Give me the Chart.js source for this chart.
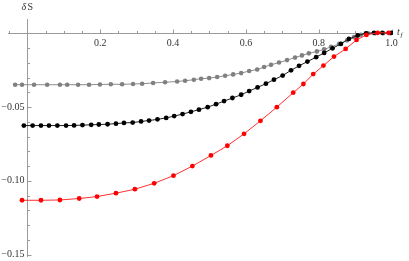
<!DOCTYPE html>
<html>
<head>
<meta charset="utf-8">
<script src="https://cdn.jsdelivr.net/npm/chart.js@4/dist/chart.umd.min.js"></script>
<style>
  body { margin: 0; background: #fff; }
  canvas { display: block; }
</style>
</head>
<body>
<canvas id="myChart" width="409" height="261"></canvas>
<script>
// values
const grayT = [-0.034, -0.015, 0.018, 0.054, 0.089, 0.109, 0.139, 0.169, 0.199, 0.229, 0.260, 0.290,
  0.315, 0.345, 0.378, 0.411, 0.433, 0.457, 0.477, 0.499, 0.521, 0.543, 0.565, 0.587, 0.609, 0.631,
  0.650, 0.669, 0.691, 0.713, 0.735, 0.754, 0.773, 0.795, 0.815, 0.834, 0.856, 0.878, 0.897, 0.916,
  0.935, 0.955, 0.977, 0.996];
const grayS = [-0.0348, -0.0348, -0.0348, -0.0348, -0.0348, -0.0348, -0.0348, -0.0348, -0.0346, -0.0345, -0.0345, -0.0343,
  -0.0341, -0.0336, -0.0331, -0.0326, -0.0321, -0.0314, -0.0307, -0.0303, -0.0296, -0.0287, -0.0278, -0.0269, -0.0255, -0.0245,
  -0.0228, -0.0213, -0.0197, -0.0181, -0.0164, -0.0149, -0.0135, -0.0122, -0.0108, -0.0091, -0.0071, -0.0047, -0.0025, -0.0009,
  0.0001, 0.0001, 0.0001, 0.0001];

const blackT = [-0.010, 0.014, 0.037, 0.059, 0.082, 0.106, 0.128, 0.151, 0.175, 0.196, 0.220, 0.243,
  0.265, 0.289, 0.312, 0.334, 0.357, 0.381, 0.403, 0.426, 0.449, 0.471, 0.495, 0.518, 0.540, 0.563,
  0.587, 0.609, 0.632, 0.655, 0.677, 0.701, 0.724, 0.746, 0.769, 0.793, 0.815, 0.838, 0.861, 0.883,
  0.907, 0.930, 0.952, 0.975, 0.999];
const blackS = [-0.0625, -0.0625, -0.0625, -0.0625, -0.0625, -0.0625, -0.0624, -0.0622, -0.0620, -0.0618, -0.0616, -0.0612,
  -0.0607, -0.0605, -0.0597, -0.0591, -0.0583, -0.0573, -0.0561, -0.0547, -0.0532, -0.0517, -0.0500, -0.0480, -0.0459, -0.0438,
  -0.0416, -0.0391, -0.0366, -0.0341, -0.0314, -0.0286, -0.0250, -0.0220, -0.0191, -0.0161, -0.0132, -0.0101, -0.0071, -0.0037,
  -0.0014, 0.0001, 0.0004, 0.0004, 0.0004];

const redT = [-0.015, 0.037, 0.089, 0.142, 0.191, 0.243, 0.295, 0.348, 0.401, 0.453, 0.504, 0.549,
  0.595, 0.640, 0.685, 0.730, 0.758, 0.785, 0.813, 0.842, 0.874, 0.904, 0.931, 0.962, 0.992];
const redS = [-0.1132, -0.1132, -0.1130, -0.1120, -0.1107, -0.1084, -0.1057, -0.1017, -0.0965, -0.0900, -0.0828, -0.0762,
  -0.0681, -0.0593, -0.0500, -0.0402, -0.0343, -0.0276, -0.0218, -0.0157, -0.0105, -0.0044, -0.0010, 0.0004, 0.0004];

const xLabels = [0.2, 0.4, 0.6, 0.8, 1.0];
const yLabels = [-0.05, -0.10, -0.15];

const serif = "'Liberation Serif', 'DejaVu Serif', 'Times New Roman', serif";

const toPoints = (ts, ss) => ts.map((t, i) => ({ x: t, y: ss[i] }));

const series = (pts, color, lineColor, r) => ({
    data: pts,
    showLine: true,
    borderColor: lineColor,
    borderWidth: 1,
    backgroundColor: color,
    pointBackgroundColor: color,
    pointBorderWidth: 0,
    pointRadius: r,
    tension: 0
});

// Mathematica style axes through the origin
const axesPlugin = {
    id: "axes",
    beforeDatasetsDraw(chart) {
        const ctx = chart.ctx;
        const xs = chart.scales.x, ys = chart.scales.y;
        const area = chart.chartArea;
        const x0 = Math.round(xs.getPixelForValue(0)) + 0.5;
        const y0 = Math.round(ys.getPixelForValue(0)) + 0.5;
        ctx.save();
        ctx.strokeStyle = "#9a9a9a";
        ctx.lineWidth = 1;
        ctx.beginPath();
        ctx.moveTo(area.left, y0); ctx.lineTo(area.right, y0);
        ctx.moveTo(x0, area.top); ctx.lineTo(x0, area.bottom);
        // x ticks every 0.05
        for (let i = -1; i <= 20; i++) {
            const px = Math.round(xs.getPixelForValue(i * 0.05)) + 0.5;
            const len = i % 4 === 0 ? 4 : 2.5;
            ctx.moveTo(px, y0); ctx.lineTo(px, y0 - len);
        }
        // y ticks every 0.01
        for (let i = 0; i <= 15; i++) {
            const py = Math.round(ys.getPixelForValue(-i * 0.01)) + 0.5;
            const len = i % 5 === 0 ? 4 : 2.5;
            ctx.moveTo(x0, py); ctx.lineTo(x0 + len, py);
        }
        ctx.stroke();

        ctx.fillStyle = "#333";
        ctx.font = "10px " + serif;
        ctx.textAlign = "center";
        ctx.textBaseline = "middle";
        xLabels.forEach(v => {
            ctx.fillText(v.toFixed(1), xs.getPixelForValue(v), y0 + 10);
        });
        ctx.textAlign = "right";
        yLabels.forEach(v => {
            ctx.fillText("\u2212" + Math.abs(v).toFixed(2), x0 - 3, ys.getPixelForValue(v));
        });
        ctx.textAlign = "left";
        ctx.font = "italic 10px " + serif;
        ctx.fillText("\u03b4", x0 - 6, 7);
        ctx.font = "10px " + serif;
        ctx.fillText("S", x0, 7);
        ctx.font = "italic 10px " + serif;
        ctx.fillText("t", 397, y0 - 1);
        ctx.font = "italic 7px " + serif;
        ctx.fillText("f", 400.5, y0 + 2);
        ctx.restore();
    }
};

new Chart(document.getElementById("myChart"), {
    type: "scatter",
    data: {
        datasets: [
            series(toPoints(redT, redS), "#ff0000", "#ff3030", 2.4),
            series(toPoints(blackT, blackS), "#000000", "#222222", 2.4),
            series(toPoints(grayT, grayS), "#808080", "#8c8c8c", 2.3)
        ]
    },
    options: {
        responsive: false,
        devicePixelRatio: 1,
        animation: false,
        layout: { padding: { left: 8, right: 16, top: 19, bottom: 3 } },
        plugins: { legend: { display: false }, tooltip: { enabled: false } },
        scales: {
            x: { type: "linear", display: false, min: -0.05357, max: 1.00412 },
            y: { type: "linear", display: false, min: -0.15169, max: 0.0098 }
        }
    },
    plugins: [axesPlugin]
});
</script>
</body>
</html>
